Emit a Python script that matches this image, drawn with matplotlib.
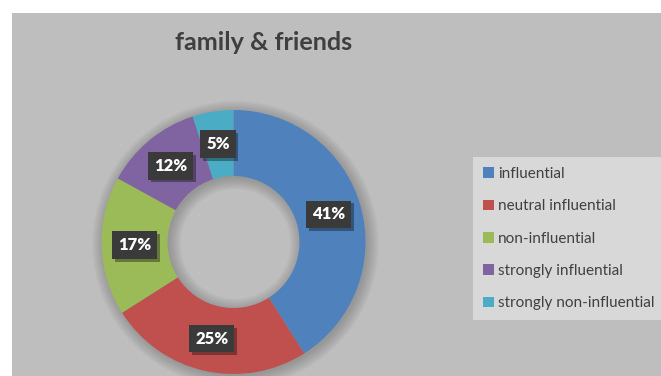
import numpy as np
import matplotlib
matplotlib.use('Agg')
import matplotlib.pyplot as plt
import matplotlib.patches as pat
import matplotlib.patheffects as pe

categories = ['influential', 'neutral influential', 'non-influential',
              'strongly influential', 'strongly non-influential']
shares = [41, 25, 17, 12, 5]
colors = ['#4f81bd', '#c0504d', '#9bbb59', '#8064a2', '#4bacc6']
title = 'family & friends'

plt.rcParams['font.family'] = ['Lato', 'DejaVu Sans']

W, H = 661, 376
fig = plt.figure(figsize=(W / 100, H / 100), dpi=100)
fig.patch.set_facecolor('white')

# grey chart area, leaves a thin white strip at left and top
fig.patches.append(pat.Rectangle((12 / W, 0), 1 - 12 / W, 1 - 13 / H,
                                 transform=fig.transFigure,
                                 fc='#bebebe', ec='none', zorder=-5))

# donut: centre (233.5, 242) px, outer radius 132 px
cx, cy, r = 233.5, H - 242, 132
lim = 1.1
half = r * lim
ax = fig.add_axes([(cx - half) / W, (cy - half) / H, 2 * half / W, 2 * half / H])
ax.set_facecolor('none')

# soft shadow behind the ring
for k in range(8):
    ax.add_patch(pat.Wedge((0.015, -0.015), 1.0 + 0.012 * k, 0, 360,
                           width=0.5 + 0.024 * k, fc='#555555', ec='none',
                           alpha=0.05, zorder=0))

wedges, _ = ax.pie(shares, colors=colors, startangle=90, counterclock=False,
                   radius=1.0, wedgeprops=dict(width=0.5, edgecolor='none'))
ax.set_xlim(-lim, lim)
ax.set_ylim(-lim, lim)
ax.set_aspect('equal')
ax.axis('off')

# percentage labels in dark boxes at mid-angle of each wedge
for w, v in zip(wedges, shares):
    ang = np.radians((w.theta1 + w.theta2) / 2)
    x, y = 0.75 * np.cos(ang), 0.75 * np.sin(ang)
    t = ax.text(x, y, '%d%%' % v, ha='center', va='center',
                fontsize=12, fontweight='heavy', color='white',
                bbox=dict(boxstyle='square,pad=0.35', fc='#3a3a3a', ec='none'))
    t.get_bbox_patch().set_path_effects(
        [pe.withSimplePatchShadow(offset=(2, -2), shadow_rgbFace='black', alpha=0.35)])

fig.text(264 / W, 1 - 42 / H, title, ha='center', va='center',
         fontsize=18.2, fontweight='bold', color='#3f3f3f')

leg = fig.legend(wedges, categories, loc='upper left',
                 bbox_to_anchor=(473 / W, 1 - 157 / H),
                 frameon=True, fontsize=11, labelcolor='#404040',
                 handlelength=0.7, handleheight=0.7, handletextpad=0.3,
                 labelspacing=1.2, borderpad=0.65, borderaxespad=0,
                 fancybox=False)
leg.get_frame().set_facecolor('#d8d8d8')
leg.get_frame().set_edgecolor('none')
leg.get_frame().set_alpha(1)

fig.savefig('out.png', dpi=100, facecolor=fig.get_facecolor())
